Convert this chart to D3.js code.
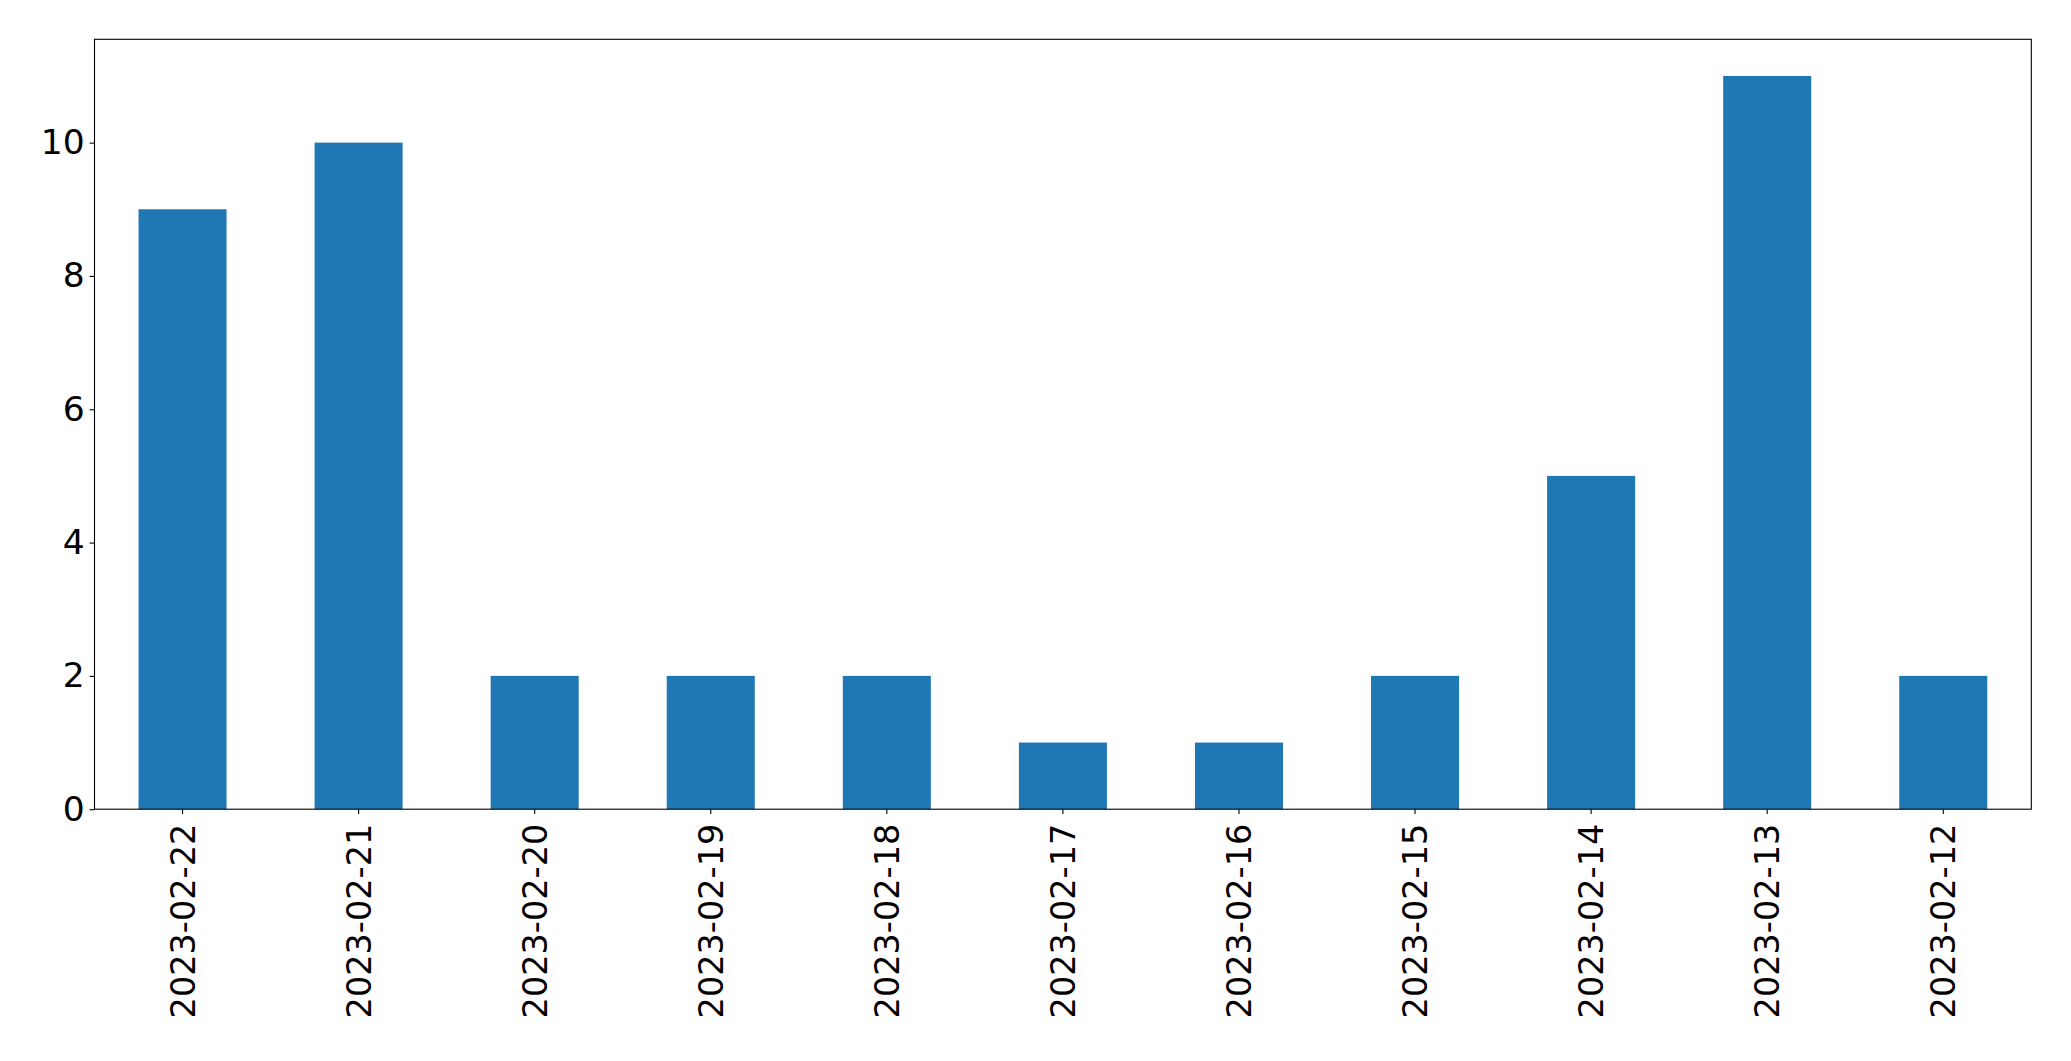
<!DOCTYPE html>
<html>
<head>
<meta charset="utf-8">
<script src="https://cdn.jsdelivr.net/npm/d3@7"></script>
<style>
  html, body { margin: 0; padding: 0; background: #fff; }
  svg { display: block; }
  text { font-family: "DejaVu Sans", sans-serif; fill: #000; }
</style>
</head>
<body>
<svg id="chart" width="2071" height="1061"></svg>
<script>
const categories = ["2023-02-22","2023-02-21","2023-02-20","2023-02-19","2023-02-18","2023-02-17","2023-02-16","2023-02-15","2023-02-14","2023-02-13","2023-02-12"];
const values = [9, 10, 2, 2, 2, 1, 1, 2, 5, 11, 2];
const yTicks = [0, 2, 4, 6, 8, 10];

(function () {
const plotLeft = 94.5, plotRight = 2031.3, plotTop = 39.3, plotBottom = 809.2;
const yFontSize = 34.5;
const xFontSize = 33.5;

const svg = d3.select("#chart");

const x = d3.scaleBand().domain(categories).range([plotLeft, plotRight]).paddingInner(0.5).paddingOuter(0.25);
const yMax = d3.max(values) * 1.05;
const y = d3.scaleLinear().domain([0, yMax]).range([plotBottom, plotTop]);

svg.append("g").selectAll("rect").data(values).join("rect")
  .attr("x", (d, i) => x(categories[i]))
  .attr("width", x.bandwidth())
  .attr("y", d => y(d))
  .attr("height", d => y(0) - y(d))
  .attr("fill", "#1f77b4");

// frame
svg.append("rect")
  .attr("x", plotLeft).attr("y", plotTop)
  .attr("width", plotRight - plotLeft).attr("height", plotBottom - plotTop)
  .attr("fill", "none").attr("stroke", "#000").attr("stroke-width", 1.1);

// y axis
const yAxis = d3.axisLeft(y).tickValues(yTicks).tickSize(4.9).tickPadding(4.9).tickFormat(d3.format("d"));
const gy = svg.append("g").attr("transform", `translate(${plotLeft},0)`).call(yAxis);
gy.select(".domain").remove();
gy.selectAll(".tick line").attr("stroke", "#000").attr("stroke-width", 1.1);
gy.selectAll(".tick text").attr("font-size", yFontSize).attr("font-family", "DejaVu Sans").attr("fill", "#000");

// x axis
const xAxis = d3.axisBottom(x).tickSize(4.9).tickPadding(0);
const gx = svg.append("g").attr("transform", `translate(0,${plotBottom})`).call(xAxis);
gx.select(".domain").remove();
gx.selectAll(".tick line").attr("stroke", "#000").attr("stroke-width", 1.1);
gx.selectAll(".tick text")
  .attr("font-size", xFontSize).attr("font-family", "DejaVu Sans").attr("fill", "#000")
  .attr("transform", "rotate(-90)")
  .attr("x", -14.5).attr("y", 0).attr("dy", "0.36em")
  .attr("text-anchor", "end");
})();
</script>
</body>
</html>
